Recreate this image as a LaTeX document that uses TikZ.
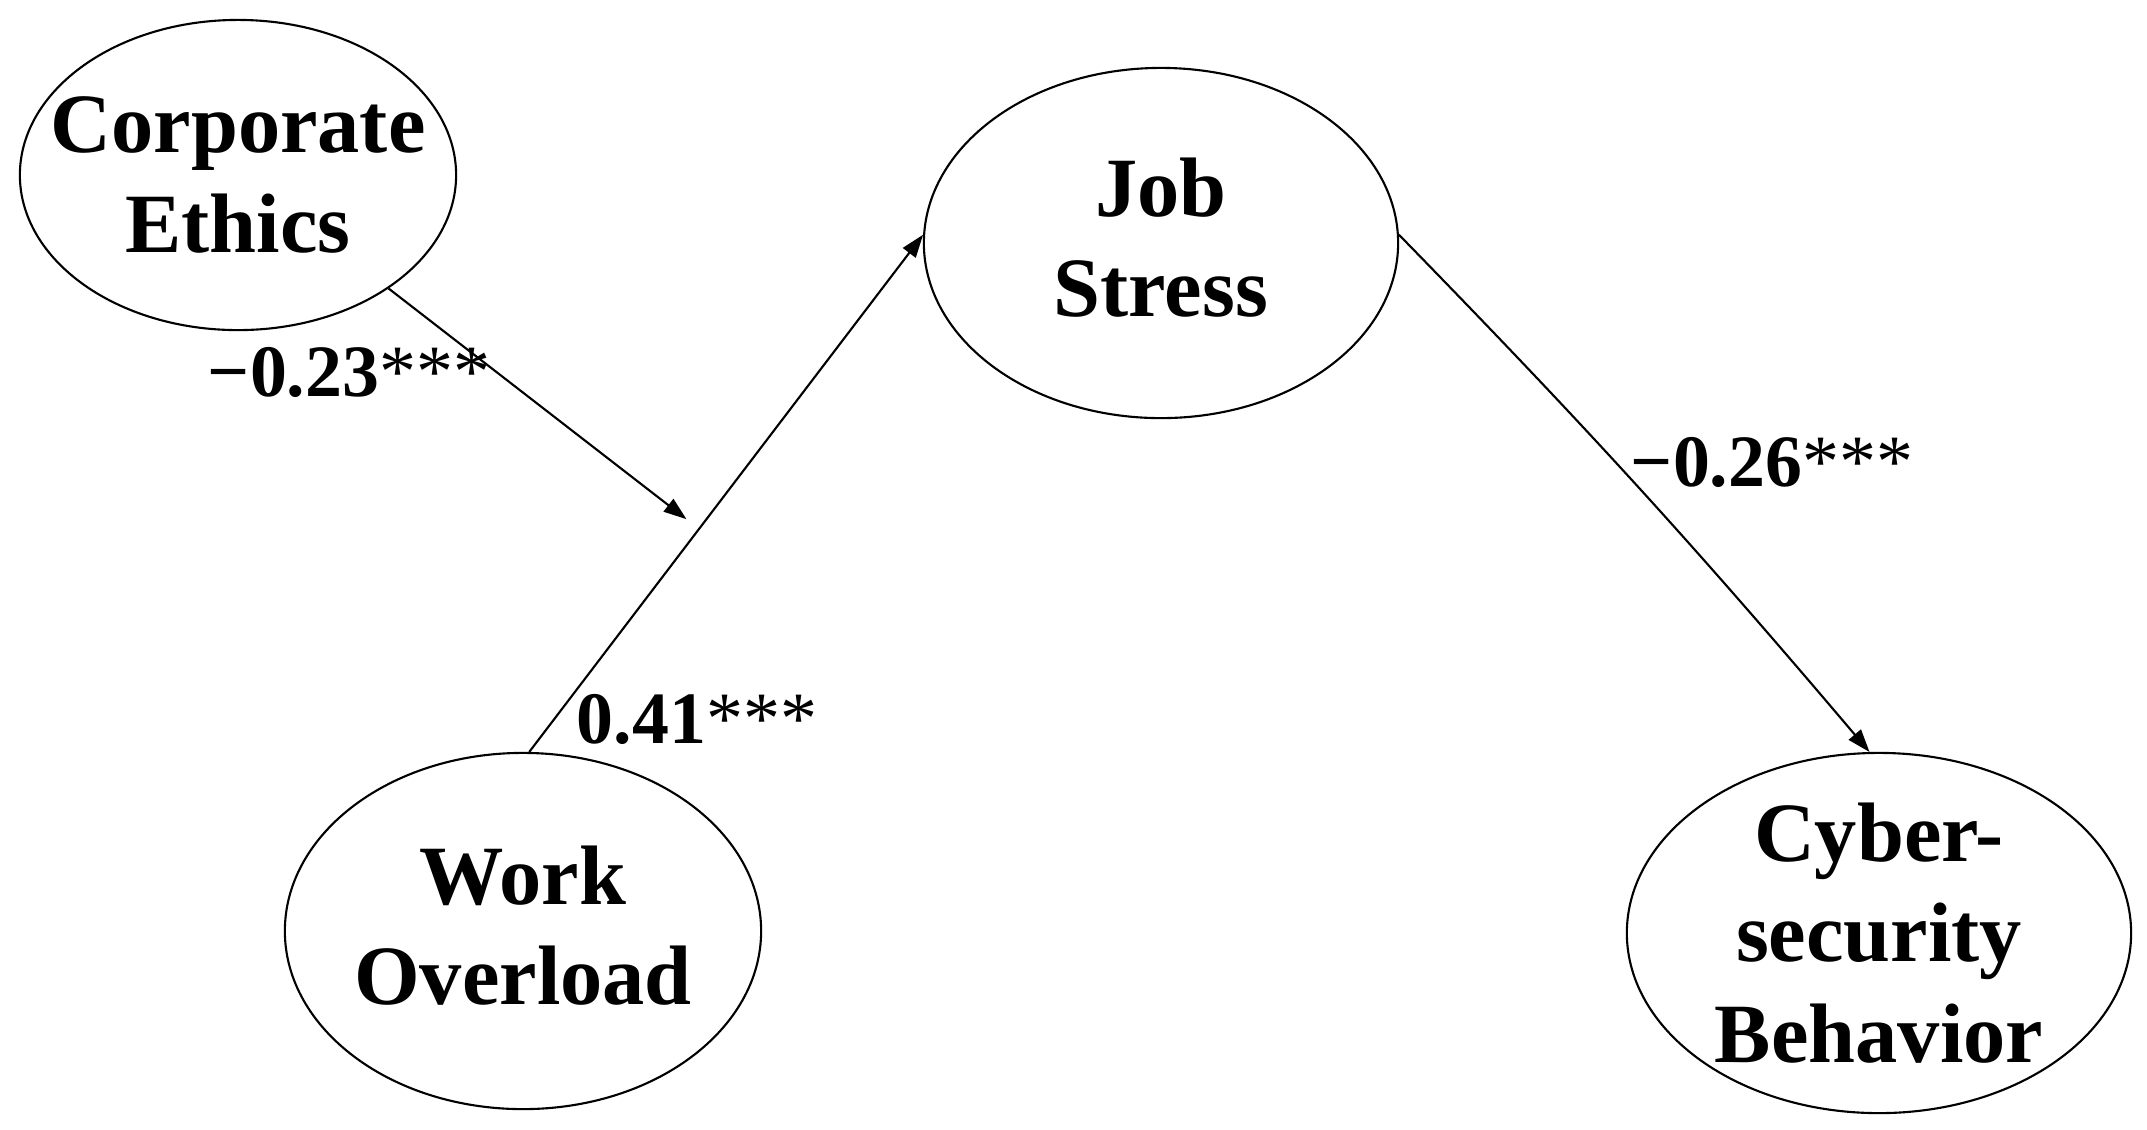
\documentclass[tikz,border=0pt]{standalone}
\usepackage{fontspec}
\setmainfont{Liberation Serif}
\usetikzlibrary{shapes.geometric,arrows.meta,calc}
\newcommand{\stars}{\textmd{***}}
\begin{document}
\begin{tikzpicture}[x=0.01cm,y=-0.01cm,
  latent/.style={ellipse,draw,line width=0.6pt,inner sep=0pt},
  nodetext/.style={font=\fontsize{24}{28.5}\selectfont\bfseries,align=center,inner sep=0pt},
  coef/.style={font=\fontsize{21}{24}\selectfont\bfseries,inner sep=0pt},
  conn/.style={line width=0.6pt,-{Triangle[length=6.5pt,width=4.5pt]}}]
\useasboundingbox[fill=white] (0,0) rectangle (2147,1129);
\node[latent,minimum width=4.36cm,minimum height=3.10cm,
  label={[nodetext]center:{Corporate\\Ethics}}] (ce) at (238,175) {};
\node[latent,minimum width=4.74cm,minimum height=3.50cm,
  label={[nodetext,yshift=0.05cm]center:{Job\\Stress}}] (js) at (1161,243) {};
\node[latent,minimum width=4.76cm,minimum height=3.56cm,
  label={[nodetext,yshift=0.05cm]center:{Work\\Overload}}] (wo) at (523,931) {};
\node[latent,minimum width=5.04cm,minimum height=3.60cm,
  label={[nodetext]center:{Cyber-\\security\\Behavior}}] (cb) at (1879,933) {};
\draw[conn] (wo.88) -- (js.178);
\coordinate (m) at ($($(wo.88)!0.45!(js.178)$)+(-20,0)$);
\draw[conn] (ce.-37) -- (m);
\draw[conn] (js.2) to[bend left=2] (cb.93);
\node[coef] (l1) at (349,372) {−0.23\stars};
\node[coef] (l2) at (697,719) {0.41\stars};
\node[coef] (l3) at (1772,462) {−0.26\stars};
\end{tikzpicture}
\end{document}
